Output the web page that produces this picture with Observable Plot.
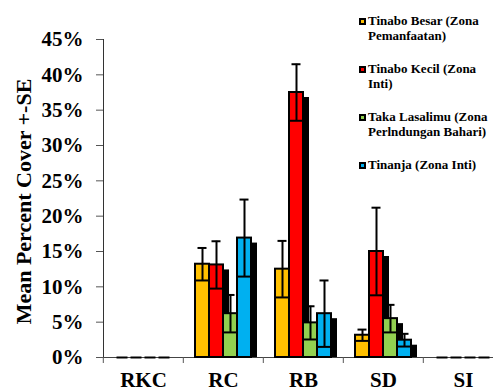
<!DOCTYPE html>
<html><head><meta charset="utf-8">
<script src="https://cdn.jsdelivr.net/npm/d3@7"></script>
<script src="https://cdn.jsdelivr.net/npm/@observablehq/plot@0.6"></script>
<style>
html,body{margin:0;padding:0;background:#fff;overflow:hidden;}
#wrap{position:relative;width:493px;height:392px;font-family:"Liberation Serif","Tinos","DejaVu Serif",serif;}
.leg{position:absolute;left:359px;font-weight:bold;font-size:13px;line-height:14.5px;color:#000;}
.leg .sw{position:absolute;left:0;top:4px;width:3px;height:3px;border:2px solid #000;}
.leg .tx{position:absolute;left:9px;top:0;width:128px;white-space:normal;}
</style></head><body><div id="wrap"></div>
<script>
const categories = ["RKC", "RC", "RB", "SD", "SI"];
const series = [
  "Tinabo Besar (Zona Pemanfaatan)",
  "Tinabo Kecil (Zona Inti)",
  "Taka Lasalimu (Zona Perlndungan Bahari)",
  "Tinanja (Zona Inti)"
];
const colors = ["#FFC000", "#FF0000", "#92D050", "#00B0F0"];
// mean percent cover per category (RKC, RC, RB, SD, SI)
const tinaboBesar = [0, 13.2, 12.5, 3.15, 0];
const tinaboKecil = [0, 13.1, 37.5, 15.0, 0];
const takaLasalimu = [0, 6.2, 4.9, 5.5, 0];
const tinanja = [0, 16.9, 6.2, 2.45, 0];
// standard errors
const seTinaboBesar = [0, 2.3, 4.0, 0.8, 0];
const seTinaboKecil = [0, 3.35, 4.0, 6.2, 0];
const seTakaLasalimu = [0, 2.65, 2.35, 1.95, 0];
const seTinanja = [0, 5.45, 4.7, 0.9, 0];
const yTicks = [0, 5, 10, 15, 20, 25, 30, 35, 40, 45];
const yTitle = "Mean Percent Cover +-SE";

const means = [tinaboBesar, tinaboKecil, takaLasalimu, tinanja];
const ses = [seTinaboBesar, seTinaboKecil, seTakaLasalimu, seTinanja];
const rows = [];
categories.forEach((cat, ci) => {
  series.forEach((s, si) => {
    const v = means[si][ci], se = ses[si][ci];
    rows.push({cat, series: s, v, se, lo: Math.max(0, v - se), hi: v + se});
  });
});
const pos = rows.filter(d => d.v > 0);
const zero = rows.filter(d => d.v === 0);
const font = "Liberation Serif, Tinos, DejaVu Serif, serif";

const chart = Plot.plot({
  width: 493,
  height: 392,
  marginLeft: 102,
  marginRight: -11,
  marginTop: 39,
  marginBottom: 35,
  style: {fontFamily: font, background: "white", overflow: "visible"},
  fx: {domain: categories, padding: 0, label: null},
  x: {domain: series, paddingInner: 0, paddingOuter: 0.725, axis: null},
  y: {domain: [0, 45]},
  color: {domain: series, range: colors},
  marks: [
    Plot.ruleY([0], {stroke: "#444", strokeWidth: 1}),
    Plot.frame({anchor: "left", facetAnchor: "left", stroke: "#333"}),
    Plot.axisY({ticks: yTicks, tickFormat: d => d + "%", tickSize: 7, tickPadding: 13,
      fontSize: 21, fontWeight: "bold", stroke: "#555", label: null}),
    Plot.axisFx({anchor: "bottom", tickSize: 6, tickFormat: () => "", dx: -40.2, stroke: "#555", label: null}),
    Plot.axisFx({anchor: "bottom", tickSize: 0, tickPadding: 15, fontSize: 21, fontWeight: "bold", label: null}),
    Plot.barY(pos, {fx: "cat", x: "series", y1: 0, y2: "v", fill: "black", dx: 6, insetTop: 5}),
    Plot.barY(rows, {fx: "cat", x: "series", y1: 0, y2: "v", fill: "series", stroke: "black", strokeWidth: 2}),
    Plot.tickY(pos, {fx: "cat", x: "series", y: "lo", stroke: "black", strokeWidth: 2}),
    Plot.tickY(zero, {fx: "cat", x: "series", y: 0, stroke: "black", strokeWidth: 2, insetLeft: 1.5, insetRight: 1.5}),
    Plot.ruleX(pos, {fx: "cat", x: "series", y1: "lo", y2: "hi", stroke: "black", strokeWidth: 2}),
    Plot.tickY(pos, {fx: "cat", x: "series", y: "hi", stroke: "black", strokeWidth: 2, insetLeft: 2.5, insetRight: 2.5})
  ]
});
const wrap = document.getElementById("wrap");
wrap.appendChild(chart);

d3.select(chart).append("text")
  .attr("transform", "translate(31,201.5) rotate(-90)")
  .attr("text-anchor", "middle")
  .attr("font-family", font)
  .attr("font-size", 22)
  .attr("font-weight", "bold")
  .attr("fill", "black")
  .text(yTitle);

const legTops = [14, 62.3, 110.3, 158.3];
series.forEach((s, i) => {
  const d = document.createElement("div");
  d.className = "leg";
  d.style.top = legTops[i] + "px";
  const sw = document.createElement("div");
  sw.className = "sw";
  sw.style.background = colors[i];
  const tx = document.createElement("div");
  tx.className = "tx";
  tx.textContent = s;
  d.appendChild(sw);
  d.appendChild(tx);
  wrap.appendChild(d);
});
</script></body></html>
